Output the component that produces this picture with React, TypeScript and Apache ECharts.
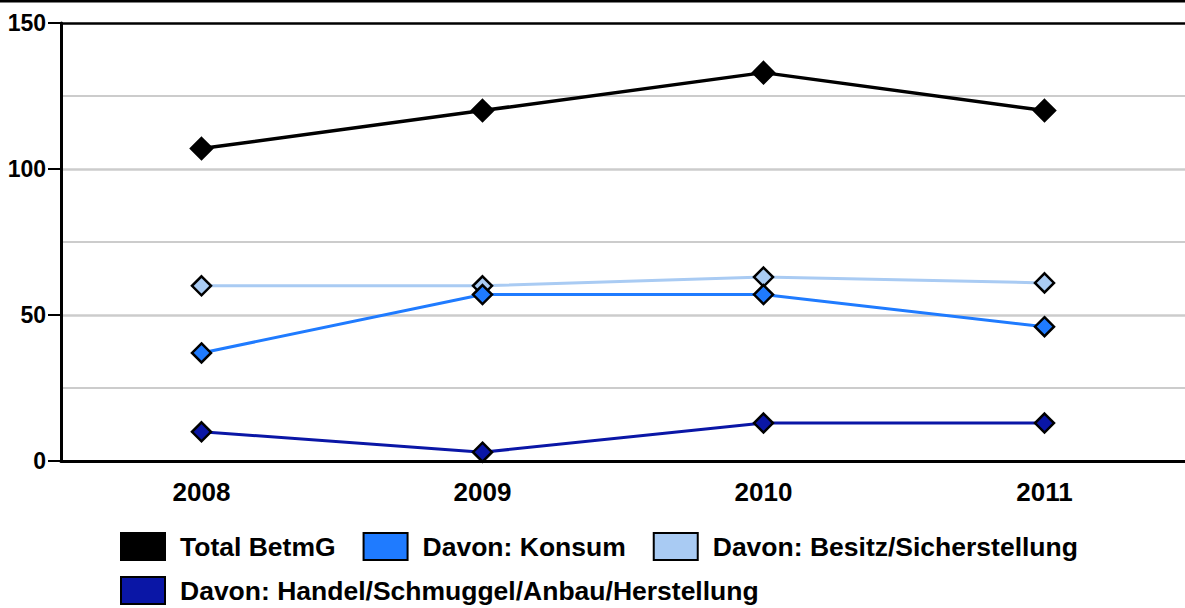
import React, { useEffect, useRef } from "react";
import * as echarts from "echarts";

const years = ["2008", "2009", "2010", "2011"];
const totalBetmG = [107, 120, 133, 120];
const konsum = [37, 57, 57, 46];
const besitz = [60, 60, 63, 61];
const handel = [10, 3, 13, 13];

const seriesNames = [
  "Total BetmG",
  "Davon: Konsum",
  "Davon: Besitz/Sicherstellung",
  "Davon: Handel/Schmuggel/Anbau/Herstellung",
];
const seriesColors = ["#000000", "#1f7bff", "#a9cbf3", "#0a16a6"];
const seriesData = [totalBetmG, konsum, besitz, handel];

const FONT = "'Liberation Sans', Arial, sans-serif";

export default function App() {
  const ref = useRef<HTMLDivElement>(null);
  useEffect(() => {
    if (!ref.current) return;
    const chart = echarts.init(ref.current, null, { renderer: "svg" });
    const legendCommon = {
      icon: "rect",
      itemWidth: 44,
      itemHeight: 27,
      itemGap: 27,
      padding: 0,
      orient: "horizontal",
      itemStyle: { borderColor: "#000", borderWidth: 2 },
      textStyle: {
        fontFamily: FONT,
        fontWeight: "bold",
        fontSize: 26.5,
        color: "#000",
        padding: [0, 0, 0, 10],
      },
    };
    chart.setOption({
      animation: false,
      backgroundColor: "#fff",
      textStyle: { fontFamily: FONT },
      graphic: [
        {
          type: "rect",
          shape: { x: 0, y: 0, width: 1185, height: 2.5 },
          style: { fill: "#000" },
        },
      ],
      grid: { left: 61, right: -4, top: 23, bottom: 147 },
      legend: [
        {
          ...legendCommon,
          left: 120,
          top: 532,
          data: seriesNames.slice(0, 3),
        },
        {
          ...legendCommon,
          left: 120,
          top: 576,
          data: seriesNames.slice(3),
        },
      ],
      xAxis: {
        type: "category",
        data: years,
        boundaryGap: true,
        axisLine: { lineStyle: { color: "#000", width: 3 } },
        axisTick: { show: false },
        axisLabel: {
          color: "#000",
          fontFamily: FONT,
          fontWeight: "bold",
          fontSize: 26,
          margin: 18,
        },
      },
      yAxis: {
        type: "value",
        min: 0,
        max: 150,
        interval: 50,
        axisLine: { show: true, lineStyle: { color: "#000", width: 3 } },
        axisTick: { show: true, length: 13, lineStyle: { color: "#000", width: 2 } },
        axisLabel: {
          color: "#000",
          fontFamily: FONT,
          fontWeight: "bold",
          fontSize: 23,
          margin: 15,
        },
        splitLine: {
          show: true,
          lineStyle: { color: ["#cccccc", "#cccccc", "#cccccc", "#000000"], width: 2.5 },
        },
        minorTick: { show: false, splitNumber: 2 },
        minorSplitLine: { show: true, lineStyle: { color: "#cccccc", width: 2 } },
      },
      series: seriesNames.map((name, i) => ({
        name,
        type: "line",
        data: seriesData[i],
        symbol: "diamond",
        symbolSize: i === 0 ? 21 : 19,
        color: seriesColors[i],
        lineStyle: { color: seriesColors[i], width: i === 0 ? 3.5 : 3 },
        itemStyle: { color: seriesColors[i], borderColor: "#000", borderWidth: 2.5 },
        z: 10 - i,
      })),
    });
    return () => chart.dispose();
  }, []);
  return (
    <div
      ref={ref}
      style={{ position: "absolute", left: 0, top: 0, width: 1185, height: 608 }}
    />
  );
}
